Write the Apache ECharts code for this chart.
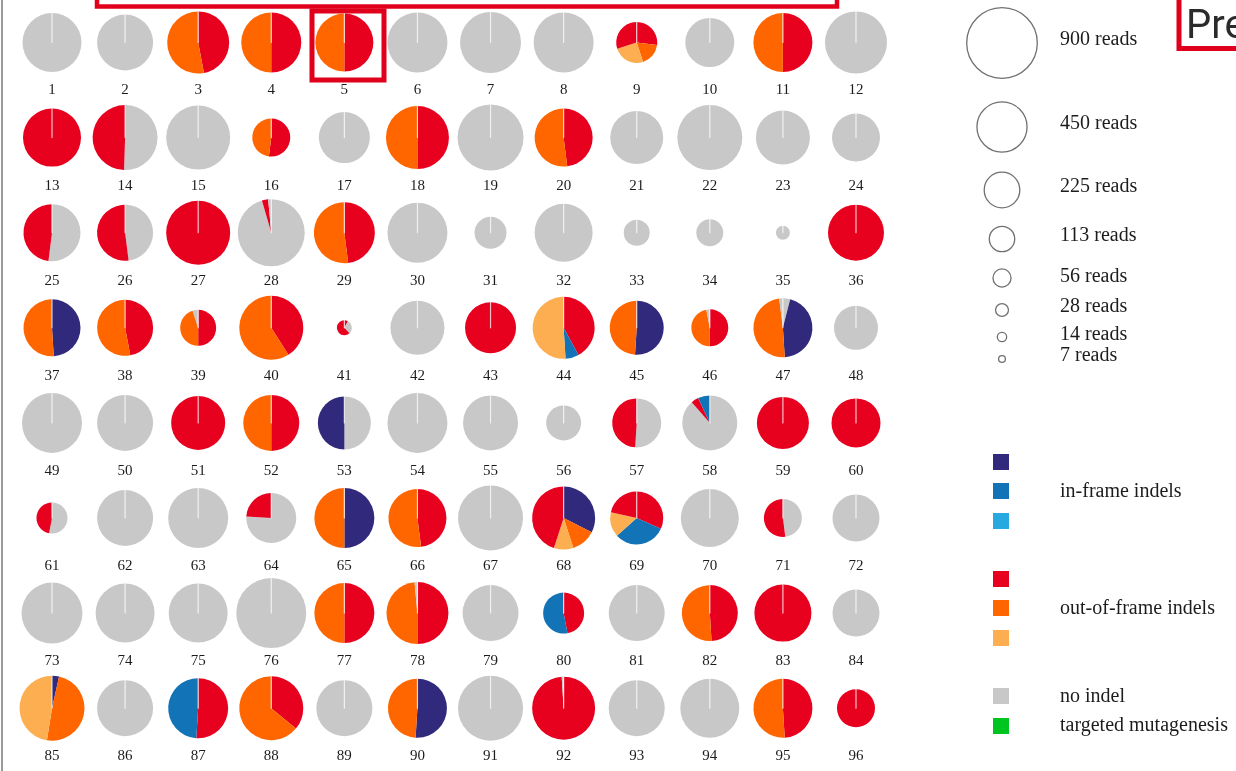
<!DOCTYPE html>
<html><head><meta charset="utf-8">
<script src="https://cdn.jsdelivr.net/npm/echarts@6/dist/echarts.min.js"></script>
<style>html,body{margin:0;padding:0;background:#fff;overflow:hidden}#c{width:1236px;height:771px}</style>
</head><body><div id="c"></div>
<script>
// ---- DATA ----
const wellLabels = ['1','2','3','4','5','6','7','8','9','10','11','12',
 '13','14','15','16','17','18','19','20','21','22','23','24',
 '25','26','27','28','29','30','31','32','33','34','35','36',
 '37','38','39','40','41','42','43','44','45','46','47','48',
 '49','50','51','52','53','54','55','56','57','58','59','60',
 '61','62','63','64','65','66','67','68','69','70','71','72',
 '73','74','75','76','77','78','79','80','81','82','83','84',
 '85','86','87','88','89','90','91','92','93','94','95','96'];

// total reads per well (pie area ~ reads)
const wellReads = [
 639,576,706,661,618,661,683,661,309,441,639,706,
 618,776,752,265,478,729,800,618,516,776,536,423,
 597,576,752,824,683,661,188,618,124,134,36,576,
 597,576,238,752,41,536,478,706,536,251,639,356,
 661,576,536,576,516,661,556,225,441,556,497,441,
 177,576,661,459,661,618,776,729,516,618,265,406,
 683,639,639,900,661,706,576,309,576,576,597,406,
 776,576,661,752,576,639,776,729,576,639,639,265];

// alleles per well, clockwise from 12 o'clock: [category, % of reads, ...]
// IF1/IF2/IF3 = in-frame indels, OF1/OF2/OF3 = out-of-frame indels, NO = no indel
const wellAlleles = [
 ['NO',100],['NO',100],['OF1',47,'OF2',53],['OF1',50,'OF2',50],['OF1',50,'OF2',50],['NO',100],
 ['NO',100],['NO',100],['OF1',27,'OF2',18,'OF3',25,'OF1',30],['NO',100],['OF1',50,'OF2',50],['NO',100],
 ['OF1',100],['NO',50.5,'OF1',49.5],['NO',100],['OF1',52,'OF2',48],['NO',100],['OF1',50,'OF2',50],
 ['NO',100],['OF1',48,'OF2',52],['NO',100],['NO',100],['NO',100],['NO',100],
 ['NO',52,'OF1',48],['NO',48,'OF1',52],['OF1',100],['NO',95.5,'OF1',3,'NO',1.5],['OF1',48,'OF2',52],['NO',100],
 ['NO',100],['NO',100],['NO',100],['NO',100],['NO',100],['OF1',100],
 ['IF1',49,'OF2',51],['OF1',47,'OF2',53],['OF1',50,'OF2',45,'NO',5],['OF1',41,'OF2',59],['OF1',8,'NO',30,'OF1',62],['NO',100],
 ['OF1',100],['OF1',42,'IF2',7,'OF3',51],['IF1',51,'OF2',49],['OF1',50,'OF2',47,'NO',3],['NO',4,'IF1',45,'OF2',49,'NO',2],['NO',100],
 ['NO',100],['NO',100],['OF1',100],['OF1',50,'OF2',50],['NO',50,'IF1',50],['NO',100],
 ['NO',100],['NO',100],['NO',51,'OF1',49],['NO',88.6,'OF1',4.4,'IF2',7],['OF1',100],['OF1',100],
 ['NO',53,'OF1',47],['NO',100],['NO',100],['NO',76,'OF1',24],['IF1',50,'OF2',50],['OF1',48,'OF2',52],
 ['NO',100],['IF1',32.5,'OF2',12.5,'OF3',10,'OF1',45],['OF1',31.7,'IF2',31.7,'OF3',15.1,'OF1',21.5],['NO',100],['NO',48,'OF1',52],['NO',100],
 ['NO',100],['NO',100],['NO',100],['NO',100],['OF1',50,'OF2',50],['OF1',50,'OF2',48.5,'NO',1.5],
 ['NO',100],['OF1',47,'IF2',53],['NO',100],['OF1',49,'OF2',51],['OF1',100],['NO',100],
 ['IF1',3.5,'OF2',49,'OF3',47.5],['NO',100],['OF1',51,'IF2',49],['OF1',36,'OF2',64],['NO',100],['IF1',51,'OF2',49],
 ['NO',100],['OF1',99,'NO',1],['NO',100],['NO',100],['OF1',49,'OF2',51],['OF1',100]];

const sizeLegendReads = [900, 450, 225, 113, 56, 28, 14, 7];
const categoryKeys = ['IF1','IF2','IF3','OF1','OF2','OF3','NO','TM'];
const categoryGroupLabels = ['in-frame indels','out-of-frame indels','no indel','targeted mutagenesis'];

// ---- STYLE / LAYOUT ----
const colors = {IF1:'#31297b',IF2:'#1273b6',IF3:'#27a9e0',OF1:'#e8001f',OF2:'#ff6600',OF3:'#fdae50',NO:'#c8c8c8',TM:'#00c41f'};
const COLS = 12, X0 = 52, DX = 73.09, Y0 = 42.5, DY = 95.1;
const MAX_R = 35, MAX_READS = 900;
const rScale = v => MAX_R * Math.sqrt(v / MAX_READS);
const serif = 'Liberation Serif';

const chart = echarts.init(document.getElementById('c'), null, {renderer:'canvas'});
const series = [];
const graphic = [];

wellLabels.forEach((lab, i) => {
  const col = i % COLS, row = Math.floor(i / COLS);
  const cx = X0 + col * DX, cy = Y0 + row * DY;
  const al = wellAlleles[i];
  const data = [];
  for (let k = 0; k < al.length; k += 2) {
    data.push({name: al[k], value: wellReads[i] * al[k+1] / 100, itemStyle: {color: colors[al[k]]}});
  }
  // targeted mutagenesis: 0 reads in every well (drawn as the hairline at 12 o'clock)
  data.push({name: 'TM', value: 0, itemStyle: {color: colors.TM, borderColor: 'rgba(255,255,255,0.75)', borderWidth: 1.2}});
  series.push({
    type: 'pie', silent: true, animation: false,
    center: [cx, cy], radius: [0, rScale(wellReads[i])],
    startAngle: 90, clockwise: true,
    label: {show: false}, labelLine: {show: false},
    itemStyle: {borderWidth: 0},
    data
  });
  graphic.push({type: 'text', x: cx, y: cy + 48, silent: true,
    style: {text: lab, fontFamily: serif, fontSize: 15, fill: '#1c1c1c', align: 'center', verticalAlign: 'middle'}});
});

// size legend
const sizeY = [43, 127, 190, 239, 278, 310, 337, 359];
const sizeTextY = [40, 124, 187, 236, 277, 307, 335, 356];
sizeLegendReads.forEach((v, i) => {
  graphic.push({type: 'circle', silent: true, shape: {cx: 1002, cy: sizeY[i], r: rScale(v) + 0.3},
    style: {fill: 'none', stroke: '#707070', lineWidth: 1.3}});
  graphic.push({type: 'text', silent: true, x: 1060, y: sizeTextY[i],
    style: {text: v + ' reads', fontFamily: serif, fontSize: 20, fill: '#1c1c1c', verticalAlign: 'middle'}});
});

// colour legend
const swatchY = [462, 491, 521, 579, 608, 638, 696, 726];
categoryKeys.forEach((k, i) => {
  graphic.push({type: 'rect', silent: true, shape: {x: 993, y: swatchY[i] - 8, width: 16, height: 16},
    style: {fill: colors[k]}});
});
const groupTextY = [492, 609, 697, 726];
categoryGroupLabels.forEach((t, i) => {
  graphic.push({type: 'text', silent: true, x: 1060, y: groupTextY[i],
    style: {text: t, fontFamily: serif, fontSize: 20, fill: '#1c1c1c', verticalAlign: 'middle'}});
});

// page border + red annotation boxes
graphic.push({type: 'line', silent: true, shape: {x1: 2, y1: 0, x2: 2, y2: 771}, style: {stroke: '#9a9a9a', lineWidth: 2}});
graphic.push({type: 'rect', silent: true, shape: {x: 97, y: -20, width: 740, height: 26.5}, style: {fill: 'none', stroke: '#e0001b', lineWidth: 4.5}});
graphic.push({type: 'rect', silent: true, shape: {x: 312, y: 11, width: 72, height: 69}, style: {fill: 'none', stroke: '#e0001b', lineWidth: 5}});
graphic.push({type: 'rect', silent: true, shape: {x: 1179, y: -10, width: 100, height: 58.5}, style: {fill: '#fff', stroke: '#e0001b', lineWidth: 5}});
graphic.push({type: 'text', silent: true, x: 1186, y: 28,
  style: {text: 'Pre', fontFamily: 'Roboto', fontSize: 40, fill: '#2b2b2b', verticalAlign: 'middle'}});

chart.setOption({animation: false, backgroundColor: '#fff', series, graphic});
</script></body></html>
